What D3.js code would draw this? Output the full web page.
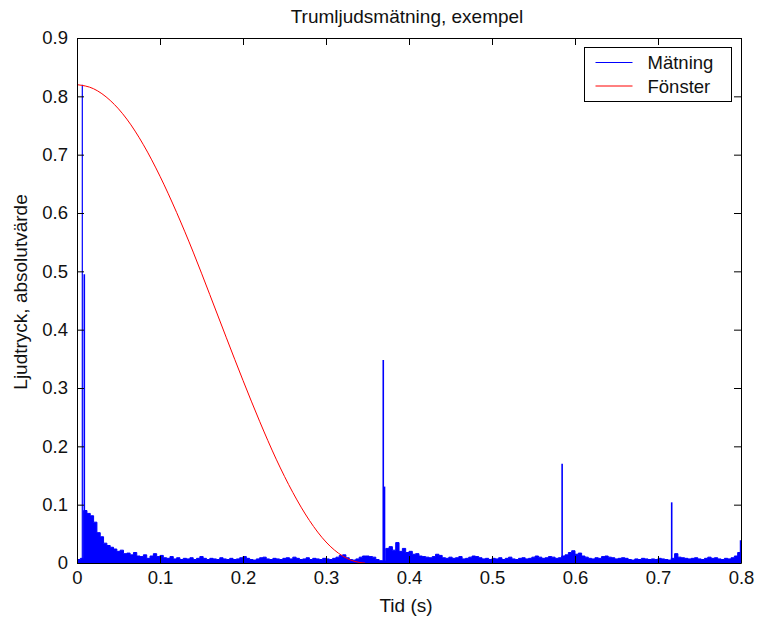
<!DOCTYPE html>
<html>
<head>
  <script src="https://d3js.org/d3.v7.min.js"></script>
  <style>
    html, body {
      margin: 0px;
      padding: 0px;
      background: #ffffff;
    }
    svg text {
      font-family: "Liberation Sans", Arial, sans-serif;
      fill: #111111;
    }
    .axis text {
      font-size: 18.5px;
    }
    .label {
      font-size: 19px;
    }
  </style>
</head>
<body>
  <div id="chart"></div>
  <script>

    /*
    DATA
    */
    const xTicks = [0, 0.1, 0.2, 0.3, 0.4, 0.5, 0.6, 0.7, 0.8];
    const yTicks = [0, 0.1, 0.2, 0.3, 0.4, 0.5, 0.6, 0.7, 0.8, 0.9];
    const seriesNames = ["Mätning", "Fönster"];

    // window ("Fönster"), red curve
    const windowT = [0, 0.02, 0.04, 0.06, 0.08, 0.10, 0.12, 0.14, 0.16, 0.18,
                     0.20, 0.22, 0.24, 0.26, 0.28, 0.30, 0.32, 0.34, 0.347];
    const windowV = [0.820, 0.813, 0.793, 0.761, 0.717, 0.663, 0.601, 0.533, 0.460, 0.386,
                     0.313, 0.243, 0.178, 0.121, 0.073, 0.036, 0.012, 0.001, 0.000];

    // measurement ("Mätning"): envelope of the rectified signal, one value every 4 ms
    const noiseStep = 0.004;
    const noiseV = [
      0.006, 0.008, 0.090, 0.085, 0.081, 0.070, 0.052, 0.045, 0.034, 0.030,
      0.027, 0.024, 0.020, 0.022, 0.016, 0.017, 0.014, 0.018, 0.012, 0.011,
      0.014, 0.008, 0.012, 0.016, 0.011, 0.013, 0.009, 0.008, 0.011, 0.007,
      0.009, 0.006, 0.008, 0.007, 0.009, 0.006, 0.008, 0.011, 0.008, 0.006,
      0.008, 0.007, 0.006, 0.009, 0.007, 0.006, 0.008, 0.006, 0.007, 0.009,
      0.011, 0.008, 0.006, 0.005, 0.007, 0.009, 0.010, 0.007, 0.006, 0.008,
      0.007, 0.006, 0.008, 0.009, 0.007, 0.010, 0.008, 0.006, 0.007, 0.009,
      0.006, 0.008, 0.007, 0.006, 0.008, 0.007, 0.006, 0.008, 0.010, 0.013,
      0.014, 0.009, 0.006, 0.005, 0.007, 0.010, 0.012, 0.012, 0.011, 0.010,
      0.006, 0.004, 0.004, 0.025, 0.028, 0.022, 0.035, 0.020, 0.025, 0.018,
      0.020, 0.015, 0.016, 0.012, 0.011, 0.010, 0.009, 0.011, 0.015, 0.013,
      0.009, 0.008, 0.010, 0.008, 0.009, 0.011, 0.007, 0.008, 0.010, 0.012,
      0.011, 0.009, 0.007, 0.008, 0.006, 0.008, 0.007, 0.009, 0.006, 0.008,
      0.010, 0.007, 0.006, 0.008, 0.009, 0.007, 0.008, 0.010, 0.012, 0.010,
      0.008, 0.009, 0.011, 0.010, 0.008, 0.009, 0.012, 0.014, 0.018, 0.021,
      0.015, 0.017, 0.012, 0.010, 0.008, 0.007, 0.009, 0.008, 0.011, 0.012,
      0.010, 0.009, 0.007, 0.008, 0.009, 0.008, 0.006, 0.005, 0.007, 0.006,
      0.008, 0.007, 0.006, 0.007, 0.006, 0.008, 0.007, 0.006, 0.005, 0.008,
      0.016, 0.010, 0.009, 0.008, 0.007, 0.008, 0.009, 0.007, 0.006, 0.008,
      0.010, 0.008, 0.009, 0.007, 0.006, 0.008, 0.007, 0.009, 0.012, 0.018,
      0.035
    ];

    // single tall peaks of the measurement
    const spikeT = [0.0064, 0.0088, 0.3690, 0.3705, 0.5845, 0.7165, 0.7995];
    const spikeV = [0.820,  0.495,  0.348,  0.131,  0.170,  0.104,  0.039];

    /*
    SVG CANVAS
    */
    const width = 758;
    const height = 622;
    const margin = {top: 38, left: 77, right: 17, bottom: 59};

    const svg = d3.select("#chart")
      .append("svg")
      .attr("width", width)
      .attr("height", height);

    /*
    SCALES
    */
    const xScale = d3.scaleLinear()
      .domain([0, 0.8])
      .range([margin.left, width - margin.right]);

    const yScale = d3.scaleLinear()
      .domain([0, 0.9])
      .range([height - margin.bottom, margin.top]);

    svg.append("clipPath")
      .attr("id", "plotClip")
      .append("rect")
        .attr("x", margin.left)
        .attr("y", margin.top)
        .attr("width", width - margin.left - margin.right)
        .attr("height", height - margin.top - margin.bottom);

    const plot = svg.append("g").attr("clip-path", "url(#plotClip)");

    /*
    MEASUREMENT (blue)
    */
    const noise = noiseV.map(function(v, i) { return {t: i * noiseStep, v: v}; });

    plot.append("path")
      .datum(noise)
      .attr("fill", "#0000ff")
      .attr("stroke", "#0000ff")
      .attr("stroke-width", 1)
      .attr("d", d3.area()
        .x(function(d) { return xScale(d.t); })
        .y0(yScale(0))
        .y1(function(d) { return yScale(d.v); })
        .curve(d3.curveStepAfter));

    plot.selectAll(".spike")
      .data(spikeT)
      .enter()
      .append("line")
        .attr("class", "spike")
        .attr("x1", function(d) { return xScale(d); })
        .attr("x2", function(d) { return xScale(d); })
        .attr("y1", yScale(0))
        .attr("y2", function(d, i) { return yScale(spikeV[i]); })
        .attr("stroke", "#0000ff")
        .attr("stroke-width", function(d, i) { return i === 0 ? 1.2 : 1.6; });

    /*
    WINDOW (red)
    */
    plot.append("path")
      .datum(windowT.map(function(t, i) { return {t: t, v: windowV[i]}; }))
      .attr("fill", "none")
      .attr("stroke", "#ff0000")
      .attr("stroke-width", 1)
      .attr("d", d3.line()
        .x(function(d) { return xScale(d.t); })
        .y(function(d) { return yScale(d.v); })
        .curve(d3.curveMonotoneX));

    /*
    AXES (MATLAB style: box, inward ticks on all sides)
    */
    const tickLen = 7;
    const fmt = function(d) { return String(d); };

    svg.append("g")
      .attr("class", "axis")
      .attr("transform", `translate(0,${height - margin.bottom})`)
      .call(d3.axisBottom(xScale).tickValues(xTicks).tickFormat(fmt)
        .tickSize(-tickLen).tickSizeOuter(0).tickPadding(8));

    svg.append("g")
      .attr("class", "axis")
      .attr("transform", `translate(0,${margin.top})`)
      .call(d3.axisTop(xScale).tickValues(xTicks).tickFormat("")
        .tickSize(-tickLen).tickSizeOuter(0));

    svg.append("g")
      .attr("class", "axis")
      .attr("transform", `translate(${margin.left},0)`)
      .call(d3.axisLeft(yScale).tickValues(yTicks).tickFormat(fmt)
        .tickSize(-tickLen).tickSizeOuter(0).tickPadding(9));

    svg.append("g")
      .attr("class", "axis")
      .attr("transform", `translate(${width - margin.right},0)`)
      .call(d3.axisRight(yScale).tickValues(yTicks).tickFormat("")
        .tickSize(-tickLen).tickSizeOuter(0));

    svg.selectAll(".axis path, .axis line").attr("stroke", "#000000");
    svg.selectAll(".axis text").attr("fill", "#111111").attr("font-family", null);

    /*
    TITLE AND AXIS LABELS
    */
    svg.append("text")
      .attr("class", "label")
      .attr("x", 407)
      .attr("y", 23)
      .attr("text-anchor", "middle")
      .text("Trumljudsmätning, exempel");

    svg.append("text")
      .attr("class", "label")
      .attr("x", 406)
      .attr("y", 612)
      .attr("text-anchor", "middle")
      .text("Tid (s)");

    svg.append("text")
      .attr("class", "label")
      .attr("x", -292)
      .attr("y", 27)
      .attr("text-anchor", "middle")
      .attr("transform", "rotate(-90)")
      .text("Ljudtryck, absolutvärde");

    /*
    LEGEND
    */
    const legend = svg.append("g").attr("transform", "translate(584.5,47.5)");
    legend.append("rect")
      .attr("width", 147)
      .attr("height", 54)
      .attr("fill", "#ffffff")
      .attr("stroke", "#000000");

    const legendColors = ["#0000ff", "#ff0000"];
    seriesNames.forEach(function(name, i) {
      const yy = 15 + i * 23.5;
      legend.append("line")
        .attr("x1", 11).attr("x2", 48)
        .attr("y1", yy).attr("y2", yy)
        .attr("stroke", legendColors[i]);
      legend.append("text")
        .attr("class", "label")
        .attr("x", 63)
        .attr("y", yy + 6.5)
        .style("font-size", "18.5px")
        .text(name);
    });

  </script>
</body>
</html>
